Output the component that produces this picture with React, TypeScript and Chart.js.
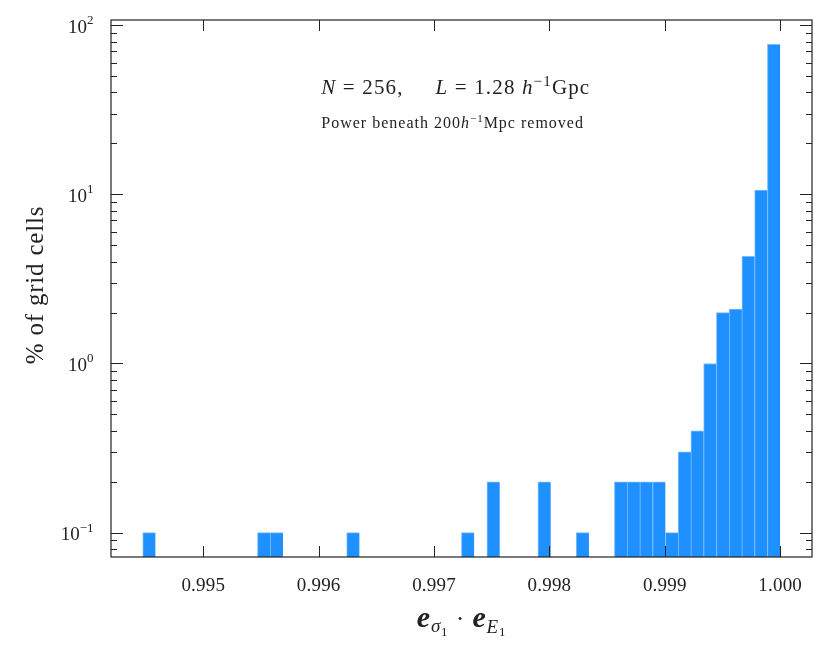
import React, { useEffect, useRef } from "react";
import { Chart, registerables } from "chart.js";

Chart.register(...registerables);

// Histogram bins (50 equal bins ending at 1.000)
const binStart = 0.994475;
const binWidth = 0.0001105;
const percentOfCells: (number | null)[] = [
  0.1, null, null, null, null, null, null, null, null, 0.1,
  0.1, null, null, null, null, null, 0.1, null, null, null,
  null, null, null, null, null, 0.1, null, 0.2, null, null,
  null, 0.2, null, null, 0.1, null, null, 0.2, 0.2, 0.2,
  0.2, 0.1, 0.3, 0.4, 1.0, 2.0, 2.1, 4.3, 10.6, 77,
];

const xTicks = [0.995, 0.996, 0.997, 0.998, 0.999, 1.0];
const xTickLabels = ["0.995", "0.996", "0.997", "0.998", "0.999", "1.000"];
const yTicks = [0.1, 1, 10, 100];
const yTickExponents = ["\u22121", "0", "1", "2"];
const xRange = [0.9942, 1.000276];
const yRange = [0.0718, 107.2];

const yTitle = "% of grid cells";

const SERIF = '"Liberation Serif", "DejaVu Serif", serif';
const INK = "#222222";

type Run = { t: string; size: number; italic?: boolean; bold?: boolean; dy?: number };

function fontOf(r: Run) {
  return `${r.italic ? "italic " : ""}${r.bold ? "bold " : ""}${r.size}px ${SERIF}`;
}

function drawRuns(
  ctx: CanvasRenderingContext2D,
  runs: Run[],
  x: number,
  y: number,
  align: "left" | "center" | "right",
  spacing = 0
) {
  const c: any = ctx;
  c.letterSpacing = `${spacing}px`;
  ctx.textBaseline = "alphabetic";
  ctx.textAlign = "left";
  const widths = runs.map((r) => {
    ctx.font = fontOf(r);
    return ctx.measureText(r.t).width;
  });
  const total = widths.reduce((a, b) => a + b, 0);
  let cx = align === "left" ? x : align === "center" ? x - total / 2 : x - total;
  runs.forEach((r, i) => {
    ctx.font = fontOf(r);
    ctx.fillText(r.t, cx, y + (r.dy || 0));
    cx += widths[i];
  });
  c.letterSpacing = "0px";
  return total;
}

const decorPlugin = {
  id: "decor",
  afterDraw(chart: any) {
    const { ctx, chartArea: a, scales } = chart;
    const xs = scales.x;
    const ys = scales.y;
    ctx.save();
    ctx.strokeStyle = INK;
    ctx.fillStyle = INK;

    // frame
    ctx.lineWidth = 1.2;
    ctx.strokeRect(a.left, a.top, a.right - a.left, a.bottom - a.top);

    // ticks (inward)
    ctx.lineWidth = 1;
    ctx.beginPath();
    xTicks.forEach((v) => {
      const px = Math.round(xs.getPixelForValue(v)) + 0.5;
      ctx.moveTo(px, a.bottom);
      ctx.lineTo(px, a.bottom - 11);
      ctx.moveTo(px, a.top);
      ctx.lineTo(px, a.top + 11);
    });
    for (let d = -2; d <= 2; d++) {
      for (let m = 1; m <= 9; m++) {
        const v = m * Math.pow(10, d);
        if (v < yRange[0] || v > yRange[1]) continue;
        const py = Math.round(ys.getPixelForValue(v)) + 0.5;
        const len = m === 1 ? 12 : 6;
        ctx.moveTo(a.left, py);
        ctx.lineTo(a.left + len, py);
        ctx.moveTo(a.right, py);
        ctx.lineTo(a.right - len, py);
      }
    }
    ctx.stroke();

    // x tick labels
    xTicks.forEach((v, i) => {
      drawRuns(ctx, [{ t: xTickLabels[i], size: 19 }], xs.getPixelForValue(v), a.bottom + 34, "center", 0.2);
    });

    // y tick labels 10^n
    yTicks.forEach((v, i) => {
      const py = ys.getPixelForValue(v);
      const right = a.left - 17.5;
      ctx.font = `13px ${SERIF}`;
      const w2 = ctx.measureText(yTickExponents[i]).width;
      drawRuns(ctx, [{ t: "10", size: 19 }], right - w2, py + 7.5, "right");
      drawRuns(ctx, [{ t: yTickExponents[i], size: 13 }], right - w2, py - 1, "left");
    });

    // y title
    ctx.save();
    ctx.translate(42.5, (a.top + a.bottom) / 2 - 3.5);
    ctx.rotate(-Math.PI / 2);
    drawRuns(ctx, [{ t: yTitle, size: 25 }], 0, 0, "center", 0.8);
    ctx.restore();

    // x title: e_{sigma_1} . e_{E_1}
    drawRuns(
      ctx,
      [
        { t: "e", size: 30, italic: true, bold: true },
        { t: "\u03C3", size: 19, italic: true, dy: 5 },
        { t: "1", size: 13, dy: 9 },
        { t: " \u00B7 ", size: 26 },
        { t: "e", size: 30, italic: true, bold: true },
        { t: "E", size: 19, italic: true, dy: 6 },
        { t: "1", size: 13, dy: 9 },
      ],
      (a.left + a.right) / 2,
      627,
      "center",
      0.8
    );

    // annotations
    const ax = a.left + 0.3 * (a.right - a.left);
    drawRuns(
      ctx,
      [
        { t: "N", size: 21, italic: true },
        { t: " = 256,     ", size: 21 },
        { t: "L", size: 21, italic: true },
        { t: " = 1.28 ", size: 21 },
        { t: "h", size: 21, italic: true },
        { t: "\u22121", size: 15, dy: -8.5 },
        { t: "Gpc", size: 21 },
      ],
      ax,
      94.3,
      "left",
      1.15
    );
    drawRuns(
      ctx,
      [
        { t: "Power beneath 200", size: 16 },
        { t: "h", size: 16, italic: true },
        { t: "\u22121", size: 11, dy: -6.5 },
        { t: "Mpc removed", size: 16 },
      ],
      ax,
      128.3,
      "left",
      1
    );

    ctx.restore();
  },
};

export default function App() {
  const ref = useRef<HTMLCanvasElement>(null);

  useEffect(() => {
    document.body.style.margin = "0";
    document.body.style.overflow = "hidden";
    const canvas = ref.current;
    if (!canvas) return;
    const data = percentOfCells.map((v, i) => ({ x: binStart + (i + 0.5) * binWidth, y: v }));
    const chart = new Chart(canvas, {
      type: "bar",
      data: {
        datasets: [
          {
            data: data as any,
            backgroundColor: "#1E90FF",
            borderColor: "rgba(110,180,255,0.9)",
            borderWidth: { top: 1, left: 1, right: 0, bottom: 0 } as any,
            borderSkipped: false,
            barPercentage: 1,
            categoryPercentage: 1,
            grouped: false,
          },
        ],
      },
      options: {
        animation: false,
        responsive: false,
        layout: { padding: { left: 0, right: 18, top: 20, bottom: 0 } },
        plugins: { legend: { display: false }, tooltip: { enabled: false } },
        scales: {
          x: {
            type: "linear",
            min: xRange[0],
            max: xRange[1],
            offset: false,
            grid: { display: false, drawTicks: false },
            border: { display: false },
            ticks: { display: false },
            afterFit: (s: any) => {
              s.height = 107;
            },
          },
          y: {
            type: "logarithmic",
            min: yRange[0],
            max: yRange[1],
            grid: { display: false, drawTicks: false },
            border: { display: false },
            ticks: { display: false },
            afterFit: (s: any) => {
              s.width = 111;
            },
          },
        },
      },
      plugins: [decorPlugin],
    });
    return () => chart.destroy();
  }, []);

  return (
    <div style={{ width: 830, height: 664, background: "#fff" }}>
      <canvas ref={ref} width={830} height={664} style={{ display: "block" }} />
    </div>
  );
}
